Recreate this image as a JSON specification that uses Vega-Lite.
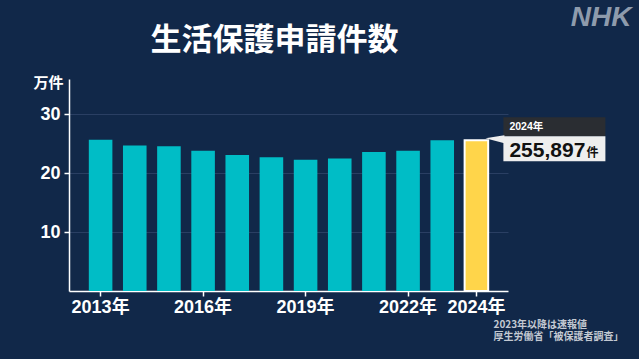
{
  "$schema": "https://vega.github.io/schema/vega-lite/v6.json",
  "width": 439,
  "height": 212,
  "autosize": {"type": "none"},
  "padding": {"left": 69, "top": 79, "right": 131, "bottom": 68},
  "background": "#112849",
  "config": {"view": {"stroke": null}, "font": "Liberation Sans, Noto Sans CJK JP"},
  "title": {
    "text": "生活保護申請件数",
    "font": "Noto Sans CJK JP",
    "fontSize": 31,
    "fontWeight": "bold",
    "color": "#ffffff",
    "anchor": "middle",
    "frame": "group",
    "dx": -14,
    "offset": -78,
    "baseline": "alphabetic"
  },
  "data": {
    "values": [
      {"year": 2013, "v": 25.7},
      {"year": 2014, "v": 24.7},
      {"year": 2015, "v": 24.6},
      {"year": 2016, "v": 23.8},
      {"year": 2017, "v": 23.1},
      {"year": 2018, "v": 22.7},
      {"year": 2019, "v": 22.3},
      {"year": 2020, "v": 22.5},
      {"year": 2021, "v": 23.6},
      {"year": 2022, "v": 23.8},
      {"year": 2023, "v": 25.6},
      {"year": 2024, "v": 25.5897}
    ]
  },
  "encoding": {
    "y": {
      "field": "v",
      "type": "quantitative",
      "scale": {"domain": [0, 36], "nice": false, "zero": true},
      "axis": {
        "title": "万件",
        "titleAngle": 0,
        "titleAlign": "left",
        "titleBaseline": "middle",
        "titleX": -36,
        "titleY": 3,
        "titleFont": "Noto Sans CJK JP",
        "titleFontSize": 15,
        "titleFontWeight": "bold",
        "titleColor": "#ffffff",
        "values": [10, 20, 30],
        "labelFontSize": 18,
        "labelFontWeight": "bold",
        "labelColor": "#ffffff",
        "labelPadding": 4,
        "tickColor": "#ffffff",
        "tickSize": 5,
        "tickWidth": 1.5,
        "domainColor": "#ffffff",
        "domainWidth": 1.5,
        "grid": true,
        "gridColor": "#2a3f63",
        "gridWidth": 1
      }
    }
  },
  "layer": [
    {
      "mark": {"type": "bar", "strokeWidth": 2},
      "encoding": {
        "x": {
          "field": "year",
          "type": "ordinal",
          "scale": {"paddingInner": 0.31, "paddingOuter": 0.58},
          "axis": {
            "values": [2013, 2016, 2019, 2022, 2024],
            "labelExpr": "datum.label + '年'",
            "labelAngle": 0,
            "labelFontSize": 18,
            "labelFontWeight": "bold",
            "labelColor": "#ffffff",
            "labelPadding": 2,
            "labelOverlap": false,
            "tickColor": "#ffffff",
            "tickSize": 5,
            "tickWidth": 1.5,
            "domainColor": "#ffffff",
            "domainWidth": 1.5,
            "grid": false,
            "title": ["2023年以降は速報値", "厚生労働省「被保護者調査」"],
            "titleFont": "Noto Sans CJK JP",
            "titleFontSize": 10,
            "titleFontWeight": "bold",
            "titleColor": "#c3c9d2",
            "titleAlign": "left",
            "titleBaseline": "top",
            "titleX": 424,
            "titleY": 28,
            "titleLineHeight": 12.5
          }
        },
        "color": {"condition": {"test": "datum.year === 2024", "value": "#ffd54a"}, "value": "#00bdc6"},
        "stroke": {"condition": {"test": "datum.year === 2024", "value": "#ffffff"}, "value": "transparent"}
      }
    },
    {
      "transform": [{"filter": "datum.year === 2024"}],
      "encoding": {
        "x": {
          "field": "year",
          "type": "ordinal",
          "scale": {"paddingInner": 0.31, "paddingOuter": 0.58},
          "axis": {
            "orient": "top",
            "values": [2024],
            "labels": false,
            "ticks": false,
            "domain": false,
            "grid": false,
            "title": "NHK",
            "titleFont": "Liberation Sans",
            "titleFontSize": 28,
            "titleFontStyle": "italic",
            "titleFontWeight": "bold",
            "titleColor": "#8e9bac",
            "titleAlign": "right",
            "titleBaseline": "alphabetic",
            "titleX": 562,
            "titleY": -54
          }
        }
      },
      "layer": [
        {
          "mark": {"type": "point", "shape": "M27,-23H129V-4H27Z", "size": 4, "filled": true, "opacity": 1, "color": "#2a2d32", "strokeWidth": 0}
        },
        {
          "mark": {"type": "point", "shape": "M27,-4H129V21H27ZM9,-2L28,-5L28,3Z", "size": 4, "filled": true, "opacity": 1, "color": "#eeeeee", "strokeWidth": 0}
        },
        {
          "mark": {"type": "text", "align": "left", "baseline": "alphabetic", "dx": 33, "dy": -10, "fontSize": 10.5, "fontWeight": "bold", "color": "#ffffff"},
          "encoding": {"text": {"value": "2024年"}}
        },
        {
          "mark": {"type": "text", "align": "left", "baseline": "alphabetic", "dx": 33, "dy": 17, "fontSize": 21, "fontWeight": "bold", "color": "#111111"},
          "encoding": {"text": {"value": "255,897"}}
        },
        {
          "mark": {"type": "text", "align": "left", "baseline": "alphabetic", "dx": 110, "dy": 17, "fontSize": 12, "fontWeight": "bold", "color": "#111111"},
          "encoding": {"text": {"value": "件"}}
        }
      ]
    }
  ],
  "resolve": {"axis": {"x": "independent"}}
}
